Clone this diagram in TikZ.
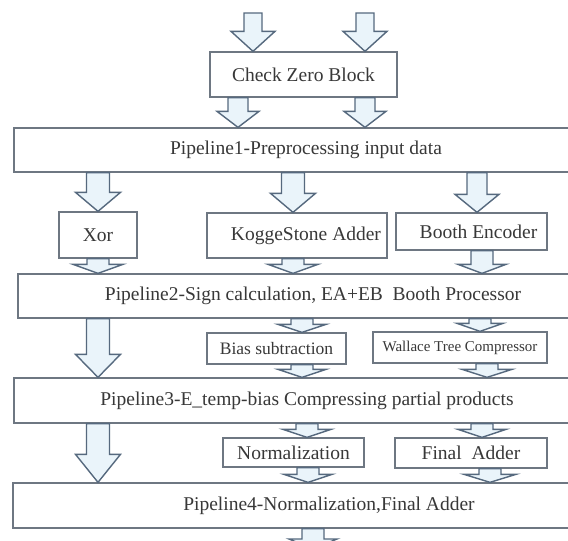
\documentclass[tikz,border=0pt]{standalone}
\usepackage{fontspec}
\setmainfont{Liberation Serif}
\usetikzlibrary{calc}
\definecolor{boxline}{HTML}{6E7782}
\definecolor{arrline}{HTML}{56697E}
\definecolor{arrfill}{HTML}{EAF4FA}
\definecolor{ink}{HTML}{383838}
\tikzset{
  box/.style={draw=boxline, line width=1.3pt, fill=white, inner sep=0pt, text=ink,
    font=\fontsize{19.5}{22}\selectfont},
  pipe/.style={box},
  blockarrow/.style={draw=arrline, line width=1.4pt, fill=arrfill, line join=miter},
}
% block arrow: x position, start anchor, end anchor, shaft half width, head half width, head length
\newcommand{\barr}[6]{%
  \draw[blockarrow] let \p1=(#2), \p2=(#3) in
    (#1pt-#4pt,\y1) -- (#1pt-#4pt,\y2+#6pt) -- (#1pt-#5pt,\y2+#6pt) -- (#1pt,\y2)
    -- (#1pt+#5pt,\y2+#6pt) -- (#1pt+#4pt,\y2+#6pt) -- (#1pt+#4pt,\y1) -- cycle;}
\begin{document}
\begin{tikzpicture}[x=1pt,y=-1pt]
\clip (0,0) rectangle (568,541);
\fill[white] (0,0) rectangle (568,541);

% free inputs
\coordinate (inA) at (253,13);
\coordinate (inB) at (365,13);
\coordinate (out) at (313,549);

% blocks
\node[box, minimum width=187pt, minimum height=45pt] (cz) at (303.5,74.5) {Check Zero Block\hspace{14pt}};
\node[pipe, minimum width=584pt, minimum height=44pt] (p1) at (306,150) {Pipeline1-Preprocessing input data};

\node[box, minimum width=78pt, minimum height=46pt] (xor) at (98,235) {Xor};
\node[box, minimum width=180pt, minimum height=45pt] (kogge) at (297,235.5) {\hspace{18pt}KoggeStone Adder};
\node[box, minimum width=151pt, minimum height=37pt] (booth) at (471.5,231.5) {\hspace{14pt}Booth Encoder};

\node[pipe, minimum width=590pt, minimum height=44pt] (p2) at (313,296) {Pipeline2-Sign calculation, EA+EB\hspace{0.25em} Booth Processor};

\node[box, minimum width=139pt, minimum height=31pt, font=\fontsize{17.5}{20}\selectfont] (bias) at (276.5,348.5) {Bias subtraction\hspace{10pt}};
\node[box, minimum width=174pt, minimum height=31pt, font=\fontsize{15}{18}\selectfont] (wal) at (460,347.5) {Wallace Tree Compressor\hspace{8pt}};

\node[pipe, minimum width=586pt, minimum height=45pt] (p3) at (307,400.5) {Pipeline3-E\_temp-bias Compressing partial products};

\node[box, minimum width=141pt, minimum height=29pt] (norm) at (293.5,452.5) {Normalization\hspace{14pt}};
\node[box, minimum width=152pt, minimum height=30pt] (fin) at (471,453) {Final\hspace{0.25em} Adder\hspace{35pt}};

\node[pipe, minimum width=632pt, minimum height=45pt] (p4) at (329,505.5) {Pipeline4-Normalization,Final Adder};

% arrows into and out of the zero check
\barr{253}{inA}{cz.north}{9}{22}{20}
\barr{365}{inB}{cz.north}{9}{22}{20}
\barr{238}{cz.south}{p1.north}{10}{21}{16}
\barr{365}{cz.south}{p1.north}{10}{21}{16}

% stage 1 outputs
\barr{98}{p1.south}{xor.north}{11.5}{22.5}{19}
\barr{293}{p1.south}{kogge.north}{11.5}{22.5}{19}
\barr{477}{p1.south}{booth.north}{10}{22}{18}

\barr{98}{xor.south}{p2.north}{11}{25}{9}
\barr{293}{kogge.south}{p2.north}{11}{25}{9}
\barr{482}{booth.south}{p2.north}{11}{24}{9}

% stage 2 outputs
\barr{98}{p2.south}{p3.north}{11.5}{22.5}{23}
\barr{302}{p2.south}{bias.north}{11}{24}{8}
\barr{480}{p2.south}{wal.north}{11}{23}{8}
\barr{302}{bias.south}{p3.north}{11}{24}{8}
\barr{487}{wal.south}{p3.north}{11}{25}{8}

% stage 3 outputs
\barr{98}{p3.south}{p4.north}{11.5}{22.5}{28}
\barr{307}{p3.south}{norm.north}{11}{24}{8}
\barr{482}{p3.south}{fin.north}{11}{24}{8}
\barr{308}{norm.south}{p4.north}{11}{24}{8}
\barr{490}{fin.south}{p4.north}{11}{26}{8}

% final output
\barr{313}{p4.south}{out}{11}{24}{10}
\end{tikzpicture}
\end{document}
